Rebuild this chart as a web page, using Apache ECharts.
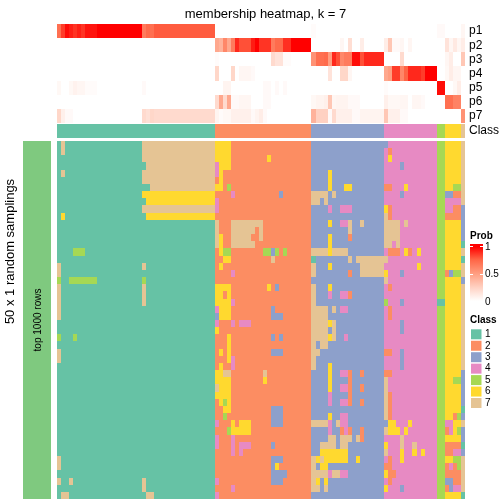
<!DOCTYPE html>
<html><head><meta charset="utf-8">
<style>html,body{margin:0;padding:0;background:#fff}#c{width:504px;height:504px}</style>
<script src="https://cdn.jsdelivr.net/npm/echarts@6/dist/echarts.min.js"></script>
</head><body><div id="c"></div>
<script>
const probNames = ["p1","p2","p3","p4","p5","p6","p7"];
const classNames = ["1","2","3","4","5","6","7"];
const classColors = ["#66c2a5","#fc8d62","#8da0cb","#e78ac3","#a6d854","#ffd92f","#e5c494"];
const classRuns = [[1,39],[2,24],[3,18],[4,13],[5,2],[6,4],[7,1]];
const probTicks = ["1","0.5","0"];
// probability runs: [firstColumn, lastColumn, value]
const p1 = [[0,0,.7],[1,1,.85],[2,2,.97],[3,3,.92],[4,4,.87],[5,5,.92],[6,6,.87],[7,9,.95],[10,20,1],[21,21,.65],[22,22,.72],[23,23,.7],[24,38,.77],[63,63,.02],[94,95,.03],[100,100,.05]];
const p2 = [[39,39,.45],[40,40,.4],[41,41,.6],[42,42,.45],[43,43,.65],[44,44,.9],[45,47,.8],[48,48,.93],[49,49,1],[50,52,.87],[53,53,.65],[54,55,.72],[56,57,.88],[58,62,1],[70,70,.05],[72,72,.18],[75,75,.1],[81,81,.1],[82,82,.3],[83,84,.03],[85,85,.05],[87,87,.05],[96,96,.15],[97,97,.05],[98,98,.12],[99,99,.05],[100,100,.1]];
const p3 = [[39,39,.02],[53,53,.2],[54,55,.15],[56,57,.02],[63,63,.55],[64,65,.7],[66,66,.72],[67,67,.5],[68,68,.9],[69,69,.8],[70,70,.6],[71,72,.65],[73,74,.97],[75,75,.8],[76,80,.9],[85,85,.2],[96,96,.05],[97,97,.1],[100,100,.3]];
const p4 = [[39,39,.22],[43,43,.22],[45,47,.05],[48,48,.03],[67,67,.15],[70,71,.22],[72,72,.05],[81,81,.45],[82,82,.5],[83,84,.85],[85,85,.6],[86,86,.75],[87,89,.9],[90,90,.85],[91,93,1],[96,96,.04],[97,97,.1],[98,99,.05]];
const p5 = [[0,0,.04],[3,3,.04],[4,4,.07],[5,6,.05],[7,9,.02],[21,21,.03],[41,42,.06],[51,52,.03],[54,54,.03],[56,56,.03],[81,81,.02],[94,95,.97],[98,98,.04],[99,99,.1]];
const p6 = [[39,39,.2],[40,40,.45],[41,41,.2],[42,42,.45],[43,44,.03],[45,47,.05],[51,52,.03],[63,63,.04],[64,65,.06],[66,66,.08],[67,67,.3],[68,68,.05],[69,71,.06],[72,74,.03],[81,81,.08],[82,84,.04],[85,86,.05],[88,89,.05],[90,90,.03],[96,97,.7],[98,99,.62]];
const p7 = [[0,0,.22],[1,1,.08],[2,3,.03],[21,21,.2],[22,22,.17],[23,23,.22],[24,38,.2],[39,39,.06],[40,40,.02],[41,42,.04],[43,47,.08],[48,48,.03],[49,49,.06],[50,50,.1],[51,51,.03],[63,63,.4],[64,66,.25],[67,67,.03],[68,68,.2],[69,72,.08],[73,74,.03],[75,80,.06],[81,81,.3],[82,84,.08],[85,86,.03],[100,100,.55]];
const probRows = [p1,p2,p3,p4,p5,p6,p7];
const rowCount = 50;
// departures from each column's class: [firstRow, lastRow, firstColumn, lastColumn, class]
const patchesClass1 = [[0,1,1,1,7],[4,4,1,1,7],[10,10,1,1,6],[0,2,21,38,7],[3,3,22,38,7],[4,5,21,38,7],[6,6,23,38,7],[7,7,21,38,6],[8,8,22,38,6],[9,9,21,38,7],[10,10,22,38,6],[15,15,4,6,5],[17,18,0,0,7],[19,19,0,0,5],[20,24,0,0,7],[17,17,21,21,7],[19,19,21,21,5],[20,22,21,21,7],[19,19,3,9,5],[27,27,0,0,5],[27,27,4,4,5],[29,30,0,0,7],[44,45,0,0,7],[47,47,0,0,7],[47,47,3,3,7],[47,48,21,21,7],[49,49,1,2,7],[49,49,22,23,7]];
const patchesClass2 = [[0,2,39,42,6],[3,3,39,39,4],[3,3,40,42,6],[4,4,39,39,4],[4,4,40,40,6],[5,5,40,40,6],[6,6,39,40,6],[6,6,42,42,5],[7,7,43,43,4],[7,7,55,55,3],[8,9,39,39,4],[2,2,52,52,6],[11,14,39,39,7],[13,15,40,40,6],[15,15,41,42,5],[16,16,41,42,6],[11,11,43,50,7],[12,12,43,48,7],[12,12,50,50,7],[13,13,43,47,7],[13,13,50,50,7],[14,14,43,48,7],[15,15,51,52,5],[15,15,53,53,3],[15,15,54,54,5],[15,15,56,56,5],[16,16,53,53,7],[17,17,40,40,6],[18,18,43,43,4],[20,20,39,42,6],[20,20,52,52,6],[20,20,54,54,3],[21,21,39,40,6],[21,21,42,42,6],[22,22,39,42,6],[22,22,43,43,4],[23,23,39,39,4],[23,23,40,42,6],[23,23,53,53,3],[24,24,39,39,3],[24,24,40,42,6],[24,24,53,55,3],[25,25,39,39,4],[25,25,43,43,4],[25,25,45,47,4],[26,26,39,39,6],[27,28,42,42,6],[27,27,53,53,3],[27,27,55,55,3],[29,29,40,40,6],[29,30,42,42,6],[29,29,53,55,3],[30,31,43,43,4],[31,31,40,40,6],[32,32,39,40,6],[32,32,41,42,7],[32,32,51,51,7],[33,33,39,42,6],[33,33,51,51,6],[34,34,39,39,7],[34,34,40,42,6],[35,35,39,42,6],[36,36,40,40,6],[36,36,41,41,5],[36,36,42,42,6],[37,37,41,42,6],[38,38,41,41,5],[37,39,53,55,3],[39,39,39,39,4],[39,39,43,43,6],[39,39,45,47,6],[40,40,42,42,5],[40,40,43,47,6],[41,42,39,39,4],[41,43,43,43,4],[42,42,45,47,4],[43,43,45,45,4],[42,42,53,53,3],[44,44,53,55,3],[45,45,53,53,3],[45,45,54,54,6],[46,46,53,56,3],[47,47,53,55,3],[47,47,39,39,4],[48,48,43,43,4],[49,49,39,39,4]];
const patchesClass3 = [[4,6,67,67,6],[7,7,63,66,7],[7,7,68,68,7],[8,8,63,64,7],[8,8,66,66,7],[9,9,67,67,4],[11,11,67,67,6],[13,14,67,67,6],[15,15,63,66,7],[15,15,67,67,6],[15,15,68,71,7],[16,16,63,63,1],[17,18,63,63,7],[17,17,67,67,6],[20,31,63,63,7],[20,20,67,67,6],[21,21,67,67,4],[23,27,64,66,7],[28,28,65,66,7],[29,29,64,64,7],[23,23,68,68,7],[25,27,68,68,7],[25,25,67,67,6],[27,27,67,67,6],[31,34,67,67,6],[35,36,67,67,4],[38,38,67,67,6],[39,39,63,66,7],[39,40,67,67,4],[39,39,69,69,7],[41,41,67,68,7],[42,42,65,68,7],[43,43,65,71,6],[44,44,63,63,7],[44,44,64,64,6],[44,44,65,65,7],[44,44,66,71,6],[45,45,63,63,7],[45,45,65,66,6],[46,46,63,66,7],[46,46,67,67,4],[46,46,68,69,7],[47,47,63,63,7],[47,47,64,64,6],[47,47,66,66,6],[48,48,63,64,7],[48,48,66,66,7],[6,6,71,72,6],[9,9,70,72,4],[11,11,70,71,4],[11,12,72,72,7],[13,13,72,72,2],[11,11,75,75,7],[16,16,72,72,7],[16,16,74,81,7],[17,18,75,80,7],[18,18,72,72,2],[21,21,70,71,4],[21,21,72,72,2],[23,23,70,71,4],[27,27,71,71,4],[32,36,72,72,2],[32,32,70,71,4],[34,34,70,71,4],[36,36,70,71,4],[32,32,75,75,2],[34,34,75,75,2],[36,36,75,75,2],[38,39,70,71,4],[40,40,70,70,2],[40,40,71,71,4],[40,40,72,72,2],[40,40,75,75,2],[41,41,70,72,7],[41,41,74,74,7],[41,41,75,75,2],[42,42,70,71,7],[44,44,74,74,6],[46,46,70,71,4]];
const patchesClass4 = [[0,0,81,81,3],[1,1,82,82,2],[2,2,82,82,6],[3,3,85,85,3],[6,6,81,82,2],[6,6,86,86,6],[7,7,85,85,3],[9,9,81,81,6],[9,10,82,82,2],[10,10,81,81,7],[11,13,81,84,7],[11,11,86,86,7],[14,14,81,82,7],[14,14,84,84,7],[15,15,82,84,2],[15,15,86,86,6],[15,15,87,87,2],[15,15,89,89,6],[17,17,89,89,6],[18,18,81,81,6],[18,18,85,85,3],[19,19,81,81,7],[20,20,82,82,2],[22,22,81,81,5],[22,22,85,85,3],[23,24,82,82,2],[25,26,85,85,3],[29,29,81,82,2],[29,31,85,85,3],[32,32,81,82,2],[33,38,81,81,7],[35,38,82,82,2],[39,39,81,81,3],[39,39,82,83,6],[39,39,87,87,6],[40,40,81,81,7],[40,40,82,84,6],[40,40,86,86,6],[41,42,85,85,7],[42,42,81,81,6],[42,42,88,88,7],[43,43,81,81,7],[43,43,85,85,6],[43,43,88,88,6],[43,43,90,90,6],[44,44,82,82,2],[44,44,85,85,6],[45,45,81,82,2],[46,46,81,81,6],[46,46,82,83,2],[47,47,82,82,2],[48,48,81,81,6],[48,48,85,85,3]];
const patchesRight = [[6,6,98,99,5],[7,7,96,97,3],[7,7,98,99,2],[8,8,96,99,4],[9,9,96,97,4],[9,9,98,99,2],[10,10,96,99,2],[9,13,100,100,3],[14,14,100,100,1],[16,16,100,100,1],[19,19,100,100,3],[32,36,100,100,3],[37,37,100,100,1],[38,38,100,100,3],[40,41,100,100,3],[42,42,100,100,1],[43,43,100,100,3],[49,49,100,100,1],[18,18,96,96,2],[18,18,97,97,3],[18,18,98,99,5],[22,22,94,95,1],[33,33,98,99,5],[38,38,98,98,2],[38,38,99,99,5],[39,39,96,97,4],[40,40,96,96,2],[40,40,97,97,4],[40,40,99,99,5],[42,42,96,99,2],[43,43,96,97,2],[43,43,98,99,4],[44,44,98,99,5],[45,45,96,96,2],[45,45,97,97,4],[45,45,98,98,2],[45,45,99,99,5],[46,46,96,99,2],[47,47,96,97,3],[47,47,98,99,2],[48,48,96,96,2],[48,48,97,97,3],[48,48,98,99,4]];

const columnClass = [];
classRuns.forEach(([k, n]) => { for (let i = 0; i < n; i++) columnClass.push(k); });
const colIds = columnClass.map((_, i) => String(i));
const rowIds = Array.from({length: rowCount}, (_, i) => String(i));

const probData = [];
probRows.forEach((runs, r) => {
  const vals = colIds.map(() => 0);
  runs.forEach(([a, b, v]) => { for (let c = a; c <= b; c++) vals[c] = v; });
  vals.forEach((v, c) => probData.push([c, r, v]));
});
const grid = rowIds.map(() => columnClass.slice());
[patchesClass1, patchesClass2, patchesClass3, patchesClass4, patchesRight].forEach(list =>
  list.forEach(([r0, r1, c0, c1, k]) => {
    for (let r = r0; r <= r1; r++) for (let c = c0; c <= c1; c++) grid[r][c] = k;
  }));
const mainData = [];
grid.forEach((row, r) => row.forEach((k, c) => mainData.push([c, r, k])));
const barData = columnClass.map((k, c) => [c, 0, k]);

const font = '"Liberation Sans", Arial, sans-serif';
const hiddenX = i => ({type: 'category', gridIndex: i, data: colIds, show: false});
const labelY = (i, data, show) => ({type: 'category', gridIndex: i, data, inverse: true, position: 'right',
  show, axisLine: {show: false}, axisTick: {show: false},
  axisLabel: {show, margin: 4, fontSize: 12, color: '#000', fontFamily: font, interval: 0}});
const txt = (x, y, text, fontSize, extra) => ({type: 'text', x, y, rotation: (extra && extra.rot) || 0, silent: true,
  style: {text, fontSize, fontFamily: font, fill: '#000', fontWeight: (extra && extra.bold) ? 'bold' : 'normal',
    textAlign: (extra && extra.align) || 'left', textVerticalAlign: 'middle'}});
const rect = (x, y, width, height, fill) => ({type: 'rect', silent: true, shape: {x, y, width, height}, style: {fill}});

// pixel-snapped cell so neighbouring cells share an edge with no seam
const cellShape = (api) => {
  const p = api.coord([api.value(0), api.value(1)]);
  const s = api.size([1, 1]);
  const x0 = Math.round(p[0] - s[0] / 2), x1 = Math.round(p[0] + s[0] / 2);
  const y0 = Math.round(p[1] - s[1] / 2), y1 = Math.round(p[1] + s[1] / 2);
  return {x: x0, y: y0, width: x1 - x0, height: y1 - y0};
};
const renderProb = (params, api) => ({type: 'rect', shape: cellShape(api), style: {fill: api.visual('color')}});
const renderClass = (params, api) => ({type: 'rect', shape: cellShape(api), style: {fill: classColors[api.value(2) - 1]}});

const graphics = [
  rect(23, 141, 28, 358, '#7fc97f'),
  txt(10, 251.5, '50 x 1 random samplings', 13, {rot: Math.PI / 2, align: 'center'}),
  txt(38, 320, 'top 1000 rows', 10, {rot: Math.PI / 2, align: 'center'}),
  txt(470, 236, 'Prob', 10, {bold: true}),
  rect(470, 244, 13, 57, new echarts.graphic.LinearGradient(0, 0, 0, 1, [
    {offset: 0, color: '#ff0000'}, {offset: .05, color: '#ff0000'}, {offset: .27, color: '#ff6445'},
    {offset: .52, color: '#ff9e81'}, {offset: .76, color: '#ffd1c2'}, {offset: 1, color: '#ffffff'}])),
  rect(470, 246, 3, 1, '#fff'), rect(480, 246, 3, 1, '#fff'),
  rect(470, 274, 3, 1, '#fff'), rect(480, 274, 3, 1, '#fff'),
  txt(485, 247, probTicks[0], 10), txt(485, 274.5, probTicks[1], 10), txt(485, 302, probTicks[2], 10),
  txt(470, 320, 'Class', 10, {bold: true})
];
classNames.forEach((name, i) => {
  const y = 334.3 + 11.45 * i;
  graphics.push(rect(471, y - 5, 10.5, 10, classColors[i]));
  graphics.push(txt(485, y, name, 10));
});

const chart = echarts.init(document.getElementById('c'), null, {renderer: 'canvas'});
const enc = {x: 0, y: 1};
chart.setOption({
  animation: false,
  backgroundColor: '#fff',
  title: {text: 'membership heatmap, k = 7', left: 260.5, top: 3, textAlign: 'center',
    textStyle: {fontSize: 13, fontWeight: 'normal', color: '#000', fontFamily: font}},
  grid: [
    {left: 57, top: 24, width: 408, height: 99},
    {left: 57, top: 124, width: 408, height: 14},
    {left: 57, top: 141, width: 408, height: 358}
  ],
  xAxis: [hiddenX(0), hiddenX(1), hiddenX(2)],
  yAxis: [labelY(0, probNames, true), labelY(1, ['Class'], true), labelY(2, rowIds, false)],
  visualMap: {show: false, seriesIndex: 0, min: 0, max: 1, dimension: 2,
    inRange: {color: ['#ffffff', '#ffd1c2', '#ff9e81', '#ff6445', '#ff0000']}},
  series: [
    {type: 'custom', xAxisIndex: 0, yAxisIndex: 0, data: probData, encode: enc, renderItem: renderProb, progressive: 0},
    {type: 'custom', xAxisIndex: 1, yAxisIndex: 1, data: barData, encode: enc, renderItem: renderClass, progressive: 0},
    {type: 'custom', xAxisIndex: 2, yAxisIndex: 2, data: mainData, encode: enc, renderItem: renderClass, progressive: 0}
  ],
  graphic: {elements: graphics}
});
</script></body></html>
